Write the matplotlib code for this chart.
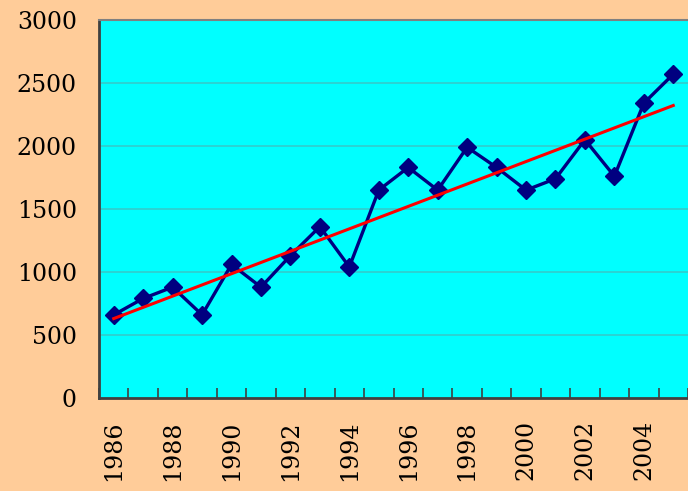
import numpy as np
import matplotlib
matplotlib.use("Agg")
import matplotlib.pyplot as plt

# Data
YEARS = list(range(1986, 2006))
VALUES = [660, 790, 880, 660, 1060, 880, 1130, 1360, 1040, 1650,
          1830, 1650, 1990, 1830, 1650, 1740, 2050, 1760, 2340, 2570]
LABEL_YEARS = [1986, 1988, 1990, 1992, 1994, 1996, 1998, 2000, 2002, 2004]
Y_TICKS = [0, 500, 1000, 1500, 2000, 2500, 3000]

BG_COLOR = "#FFCC99"
PLOT_COLOR = "#00FFFF"
LINE_COLOR = "#000080"
TREND_COLOR = "#FF0000"
FONT = "DejaVu Serif"


def main():
    fig = plt.figure(figsize=(6.88, 4.91), dpi=100, facecolor=BG_COLOR)
    ax = fig.add_axes([99 / 688, 1 - 398 / 491, 589 / 688, 378 / 491])
    ax.set_facecolor(PLOT_COLOR)

    x = np.arange(len(YEARS))

    # horizontal grid
    for y in Y_TICKS[1:-1]:
        ax.axhline(y, color="#33CCCC", linewidth=1.2, zorder=1)

    # linear trend line
    slope, intercept = np.polyfit(x, VALUES, 1)
    ax.plot(x, slope * x + intercept, color=TREND_COLOR, linewidth=2.2, zorder=3)

    ax.plot(x, VALUES, color=LINE_COLOR, linewidth=2.4, marker="D",
            markersize=9, zorder=2)

    ax.set_xlim(-0.5, len(YEARS) - 0.5)
    ax.set_ylim(0, 3000)

    # y axis
    ax.set_yticks(Y_TICKS)
    ax.set_yticklabels([str(v) for v in Y_TICKS], fontfamily=FONT, fontsize=17)
    ax.tick_params(axis="y", length=0, pad=16)

    # x axis: tick marks on category boundaries, labels at centers
    ax.set_xticks(np.arange(-0.5, len(YEARS), 1.0))
    ax.set_xticklabels([])
    ax.tick_params(axis="x", which="major", direction="in", length=7,
                   width=1.2, color="#404040")
    label_pos = [YEARS.index(yr) for yr in LABEL_YEARS]
    ax.set_xticks(label_pos, minor=True)
    ax.set_xticklabels([str(yr) for yr in LABEL_YEARS], minor=True,
                       rotation=90, fontfamily=FONT, fontsize=17)
    ax.tick_params(axis="x", which="minor", length=0, pad=16)

    for side in ["left", "bottom"]:
        ax.spines[side].set_color("#404040")
        ax.spines[side].set_linewidth(2)
    ax.spines["top"].set_color("#808080")
    ax.spines["top"].set_linewidth(1.5)
    ax.spines["right"].set_visible(False)

    fig.savefig("out.png", dpi=100, facecolor=BG_COLOR)


if __name__ == "__main__":
    main()
